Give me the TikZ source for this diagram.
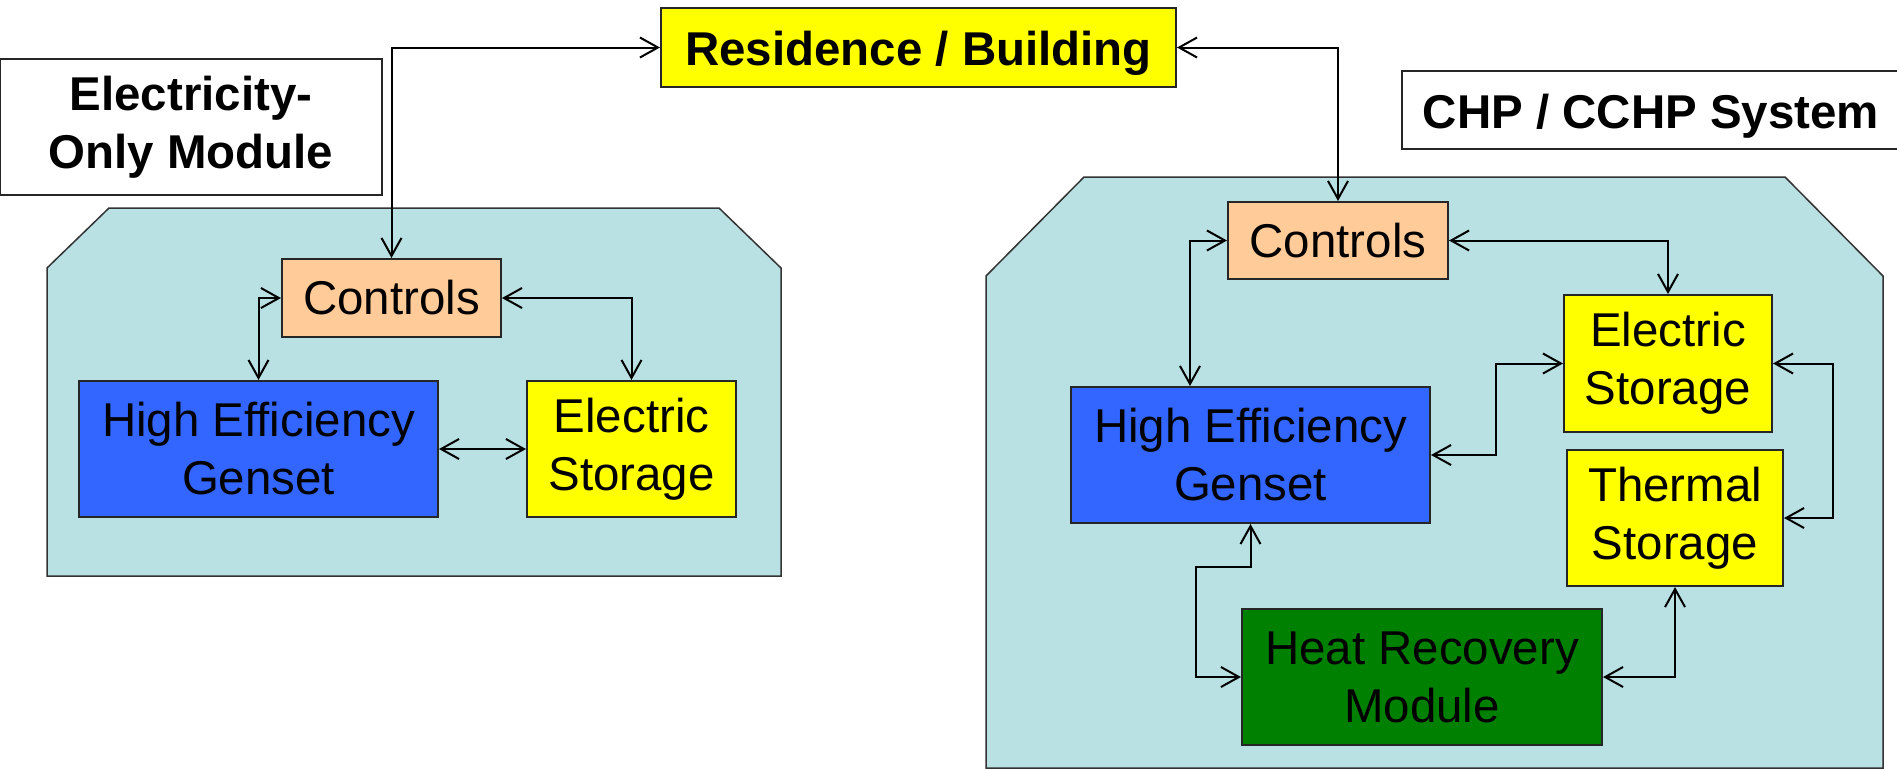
\documentclass[tikz,border=0pt]{standalone}
\usepackage{fontspec}
\setmainfont{Liberation Sans}
\usetikzlibrary{arrows.meta}

\definecolor{panelteal}{RGB}{185,224,227}
\definecolor{gensetblue}{RGB}{51,102,255}
\definecolor{ctlpeach}{RGB}{255,204,153}
\definecolor{storeyellow}{RGB}{255,255,0}
\definecolor{heatgreen}{RGB}{0,128,0}

\begin{document}
\begin{tikzpicture}[
    box/.style={draw=black!85, line width=0.04cm, inner sep=0pt, align=center,
        font=\fontsize{27}{33}\selectfont},
    boldbox/.style={box, font=\fontsize{27}{33}\selectfont\bfseries},
    titlebox/.style={boldbox, text height=0.92cm},
    link/.style={{Straight Barb[length=0.36cm,width=0.4cm]}-{Straight Barb[length=0.36cm,width=0.4cm]},
        line width=0.04cm},
    panel/.style={fill=panelteal, draw=black!80, line width=0.03cm}]
    \clip (0,0) rectangle (37.94,-15.38);

    % Module panels
    \draw[panel] (2.18,-4.16) -- (14.38,-4.16) -- (15.62,-5.36) -- (15.62,-11.52)
        -- (0.94,-11.52) -- (0.94,-5.36) -- cycle;
    \draw[panel] (21.68,-3.54) -- (35.7,-3.54) -- (37.66,-5.52) -- (37.66,-15.36)
        -- (19.72,-15.36) -- (19.72,-5.52) -- cycle;

    % Titles
    \node[titlebox, fill=storeyellow, minimum width=10.3cm, minimum height=1.58cm]
        (resid) at (18.37,-0.95) {Residence / Building};
    \node[boldbox, fill=white, minimum width=7.64cm, minimum height=2.72cm]
        (eom) at (3.82,-2.54) {Electricity-\\Only Module};
    \node[titlebox, fill=white, minimum width=9.96cm, minimum height=1.56cm]
        (chp) at (33.02,-2.2) {CHP / CCHP System};

    % Electricity-only module
    \node[box, fill=ctlpeach, minimum width=4.38cm, minimum height=1.56cm]
        (ctlL) at (7.83,-5.96) {Controls};
    \node[box, fill=gensetblue, minimum width=7.18cm, minimum height=2.72cm]
        (genL) at (5.17,-8.98) {High Efficiency\\Genset};
    \node[box, fill=storeyellow, minimum width=4.18cm, minimum height=2.72cm]
        (esL) at (12.63,-8.98) {Electric\\Storage};

    % CHP system
    \node[box, fill=ctlpeach, minimum width=4.4cm, minimum height=1.54cm]
        (ctlR) at (26.76,-4.81) {Controls};
    \node[box, fill=storeyellow, minimum width=4.16cm, minimum height=2.74cm]
        (esR) at (33.36,-7.27) {Electric\\Storage};
    \node[box, fill=gensetblue, minimum width=7.18cm, minimum height=2.72cm]
        (genR) at (25.01,-9.1) {High Efficiency\\Genset};
    \node[box, fill=storeyellow, minimum width=4.32cm, minimum height=2.72cm]
        (tsR) at (33.5,-10.36) {Thermal\\Storage};
    \node[box, fill=heatgreen, minimum width=7.2cm, minimum height=2.72cm]
        (hrm) at (28.44,-13.54) {Heat Recovery\\Module};

    % Links
    \draw[link] (resid.west) -| (ctlL.north);
    \draw[link] (ctlL.west) -| (genL.north);
    \draw[link] (ctlL.east) -| (esL.north);
    \draw[link] (genL.east) -- (esL.west);

    \draw[link] (resid.east) -| (ctlR.north);
    \draw[link] (ctlR.west) -| ([xshift=-1.21cm]genR.north);
    \draw[link] (ctlR.east) -| (esR.north);
    \draw[link] (esR.west) -- ++(-1.34,0) |- (genR.east);
    \draw[link] (esR.east) -- ++(1.2,0) |- (tsR.east);
    \draw[link] (genR.south) -- ++(0,-0.86) -- ++(-1.1,0) |- (hrm.west);
    \draw[link] (hrm.east) -| (tsR.south);
\end{tikzpicture}
\end{document}
